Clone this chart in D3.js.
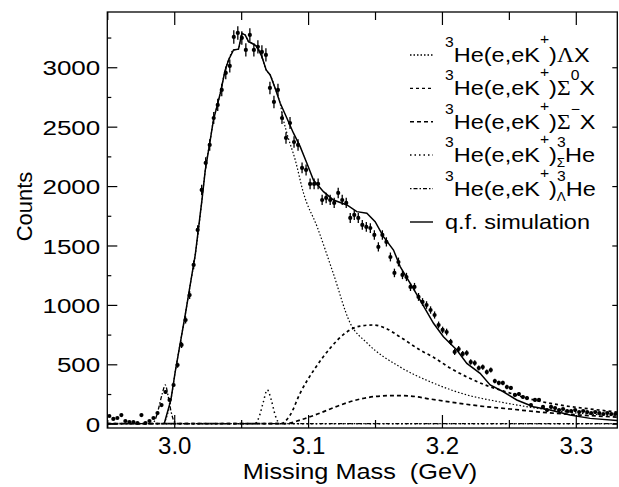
<!DOCTYPE html>
<html>
<head>
<meta charset="utf-8">
<script src="https://cdn.jsdelivr.net/npm/d3@7"></script>
<style>
body{margin:0;background:#fff;}
svg text{font-family:"Liberation Sans",Arial,Helvetica,sans-serif;fill:#000;}
</style>
</head>
<body>
<svg width="619" height="487"></svg>
<script>
// missing mass bins (GeV)
const mass = [
 2.9515,2.9545,2.9575,2.9605,2.9635,2.9665,2.9695,2.9725,2.9755,2.9785,
 2.9815,2.9845,2.9875,2.9905,2.9935,2.9965,2.9995,3.0025,3.0055,3.0085,
 3.0115,3.0145,3.0175,3.0205,3.0235,3.0265,3.0295,3.0325,3.0355,3.0385,
 3.0415,3.0445,3.0475,3.0505,3.0535,3.0565,3.0595,3.0625,3.0655,3.0685,
 3.0715,3.0745,3.0775,3.0805,3.0835,3.0865,3.0895,3.0925,3.0955,3.0985,
 3.1015,3.1045,3.1075,3.1105,3.1135,3.1165,3.1195,3.1225,3.1255,3.1285,
 3.1315,3.1345,3.1375,3.1405,3.1435,3.1465,3.1495,3.1525,3.1555,3.1585,
 3.1615,3.1645,3.1675,3.1705,3.1735,3.1765,3.1795,3.1825,3.1855,3.1885,
 3.1915,3.1945,3.1975,3.2005,3.2035,3.2065,3.2095,3.2125,3.2155,3.2185,
 3.2215,3.2245,3.2275,3.2305,3.2335,3.2365,3.2395,3.2425,3.2455,3.2485,
 3.2515,3.2545,3.2575,3.2605,3.2635,3.2665,3.2695,3.2725,3.2755,3.2785,
 3.2815,3.2845,3.2875,3.2905,3.2935,3.2965,3.2995,3.3025,3.3055,3.3085,
 3.3115,3.3145,3.3175,3.3205,3.3235,3.3265,3.3295
];
const counts = [
 65,40,48,73,23,14,14,6,73,6,23,48,90,
 157,267,200,326,494,663,873,1083,1336,1631,
 1968,2195,2346,2573,2683,2809,2952,3011,3255,3289,
 3247,3146,3272,3146,3172,3129,3104,2826,2708,2809,
 2573,2405,2531,2371,2346,2153,2136,2018,2018,2018,
 1883,1900,1883,1858,1942,1883,1858,1732,1757,1732,
 1673,1656,1647,1589,1488,1589,1530,1403,1269,1361,
 1252,1235,1151,1151,1067,1025,999,957,915,831,
 789,772,688,604,629,587,595,519,511,469,
 477,435,452,359,343,343,309,301,242,250,
 225,216,157,200,200,141,115,141,132,115,
 124,107,107,115,98,107,98,90,98,90,
 82,90,82,82
];
const errors = [
 8,6,7,9,5,4,4,2,9,2,5,7,9,
 13,16,14,18,22,26,30,33,37,40,
 44,47,48,51,52,53,54,55,57,57,
 57,56,57,56,56,56,56,53,52,53,
 51,49,50,49,48,46,46,45,45,45,
 43,44,43,43,44,43,43,42,42,42,
 41,41,41,40,39,40,39,37,36,37,
 35,35,34,34,33,32,32,31,30,29,
 28,28,26,25,25,24,24,23,23,22,
 22,21,21,19,19,19,18,17,16,16,
 15,15,13,14,14,12,11,12,11,11,
 11,10,10,11,10,10,10,9,10,9,
 9,9,9,9
];

// curves [mass, counts]
const simCurve = [
 [2.9925,0],[2.9975,200],[3.0007,435],[3.0045,679],[3.0082,915],[3.0119,1167],[3.0157,1420],
 [3.0207,1882],[3.0232,2134],[3.0269,2387],[3.0293,2557],[3.0319,2669],[3.0344,2781],[3.0381,2977],
 [3.0406,3061],[3.0443,3146],[3.0480,3152],[3.0506,3286],[3.0530,3272],[3.0555,3216],[3.0580,3202],
 [3.0618,3174],[3.0655,3089],[3.0687,2977],[3.0717,2935],[3.0754,2823],[3.0792,2697],[3.0842,2571],
 [3.0891,2445],[3.0941,2332],[3.0991,2192],[3.1040,2051],[3.1115,1953],[3.1190,1883],[3.1290,1841],
 [3.1364,1785],[3.1439,1771],[3.1501,1700],[3.1563,1574],[3.1638,1462],[3.1688,1322],[3.1763,1182],
 [3.1837,1041],[3.1937,845],[3.2011,732],[3.2111,620],[3.2186,508],[3.2285,424],[3.2360,326],
 [3.2459,269],[3.2559,200],[3.2683,143],[3.2808,115],[3.2957,73],[3.3107,45],[3.3308,27]
];
const lambdaCurve = [
 [2.9925,0],[2.9975,200],[3.0007,435],[3.0045,679],[3.0082,915],[3.0119,1167],[3.0157,1420],
 [3.0207,1882],[3.0232,2134],[3.0269,2387],[3.0293,2557],[3.0319,2669],[3.0344,2781],[3.0381,2977],
 [3.0406,3061],[3.0443,3146],[3.0480,3152],[3.0506,3286],[3.0530,3272],[3.0555,3216],[3.0580,3202],
 [3.0618,3174],[3.0655,3089],[3.0687,2977],[3.0717,2935],[3.0754,2823],[3.0792,2690],[3.0816,2556],
 [3.0842,2444],[3.0904,2220],[3.0966,1940],[3.1068,1656],[3.1187,1269],[3.1314,848],[3.1441,679],
 [3.1688,477],[3.1934,343],[3.2188,242],[3.2435,183],[3.2808,115],[3.3308,65]
];
const sigma0Curve = [
 [2.95,0],[3.0792,0],[3.0866,73],[3.0941,258],[3.1053,468],[3.1165,636],[3.1277,762],[3.1389,822],
 [3.1486,831],[3.1576,805],[3.1688,730],[3.1837,620],[3.1934,561],[3.2061,469],[3.2188,393],
 [3.2323,326],[3.2435,284],[3.2659,208],[3.2883,157],[3.3107,124],[3.3308,98]
];
const sigmaMCurve = [
 [2.95,0],[3.0829,0],[3.0941,31],[3.1090,90],[3.1240,157],[3.1389,208],[3.1538,233],[3.1650,237],
 [3.1763,233],[3.1912,208],[3.2061,183],[3.2285,149],[3.2509,124],[3.2733,98],[3.3032,73],[3.3308,56]
];
const hyperSigmaCurve = [
 [2.95,0],[3.0600,0],[3.0635,60],[3.0665,180],[3.0695,285],[3.0725,200],[3.0755,70],[3.0790,0],[3.3308,0]
];
const hyperLambdaCurve = [
 [2.95,0],[2.9830,0],[2.9860,40],[2.9880,115],[2.9910,250],[2.9933,326],[2.9955,230],[2.9975,110],
 [3.0000,20],[3.0030,0],[3.3308,0]
];

const xMajorTicks = [3.0, 3.1, 3.2, 3.3];
const xMinorTicks = [2.95, 3.05, 3.15, 3.25];
const yMajorTicks = [0, 500, 1000, 1500, 2000, 2500, 3000];
const yMinorTicks = [250, 750, 1250, 1750, 2250, 2750, 3250];

const legendLabels = [
 [['3','sup'],['He(e,eK'],['+','plus'],[')'],['\u039B','greek'],['X']],
 [['3','sup'],['He(e,eK'],['+','plus'],[')'],['\u03A3','greek'],['0','sup'],['X']],
 [['3','sup'],['He(e,eK'],['+','plus'],[')'],['\u03A3','greek'],['\u2212','sup'],['X']],
 [['3','sup'],['He(e,eK'],['+','plus'],[')'],['3','sup'],['\u03A3','sub'],['He']],
 [['3','sup'],['He(e,eK'],['+','plus'],[')'],['3','sup'],['\u039B','sub'],['He']],
 [['q.f. simulation']]
];

function whenLoaded(){
    const svg = d3.select('svg');
    const margin = {top:12, left:107.3};
    const innerWidth = 510;
    const innerHeight = 416;

    const xScale = d3.scaleLinear().domain([2.95, 3.331]).range([0, innerWidth]);
    const yScale = d3.scaleLinear().domain([-36, 3465]).range([innerHeight, 0]);

    const g = svg.append('g')
        .attr('transform', `translate(${margin.left},${margin.top})`);

    g.append('clipPath').attr('id','plotclip')
        .append('rect').attr('width', innerWidth).attr('height', innerHeight);

    // axes (ticks pointing inward)
    const xAxisG = g.append('g').attr('transform', `translate(0,${innerHeight})`)
        .call(d3.axisBottom(xScale).tickValues(xMajorTicks).tickSize(-13).tickPadding(9)
            .tickFormat(d3.format('.1f')));
    xAxisG.selectAll('text').style('font-size','24px');
    g.append('g').attr('transform', `translate(0,${innerHeight})`)
        .call(d3.axisBottom(xScale).tickValues(xMinorTicks).tickSize(-8).tickFormat(''));
    g.append('g').call(d3.axisTop(xScale).tickValues(xMajorTicks).tickSize(-13).tickFormat(''));
    g.append('g').call(d3.axisTop(xScale).tickValues(xMinorTicks).tickSize(-8).tickFormat(''));

    const yAxisG = g.append('g')
        .call(d3.axisLeft(yScale).tickValues(yMajorTicks).tickSize(-10).tickPadding(0)
            .tickFormat(d3.format('d')));
    yAxisG.selectAll('text')
        .style('font-size','21px')
        .attr('x', -7/1.24)
        .attr('dy','0.36em')
        .attr('transform','scale(1.24,1)');
    g.append('g').call(d3.axisLeft(yScale).tickValues(yMinorTicks).tickSize(-4).tickFormat(''));
    g.append('g').attr('transform', `translate(${innerWidth},0)`)
        .call(d3.axisRight(yScale).tickValues(yMajorTicks).tickSize(-5).tickFormat(''));

    g.selectAll('.domain').remove();
    g.selectAll('.tick line').attr('stroke','#000').attr('stroke-width',1.2);

    g.append('rect')
        .attr('width', innerWidth).attr('height', innerHeight)
        .attr('fill','none').attr('stroke','#000').attr('stroke-width',1.3);

    // axis labels
    svg.append('text')
        .attr('transform','translate(360,479) scale(1.15,1)')
        .style('font-size','22px')
        .style('white-space','pre')
        .attr('text-anchor','middle')
        .text('Missing Mass  (GeV)');
    svg.append('text')
        .attr('transform','translate(31.5,206.5) rotate(-90)')
        .style('font-size','22px')
        .attr('text-anchor','middle')
        .text('Counts');

    // curves
    const plot = g.append('g').attr('clip-path','url(#plotclip)');
    const line = d3.line().x(d => xScale(d[0])).y(d => yScale(d[1]));
    const smooth = d3.line().x(d => xScale(d[0])).y(d => yScale(d[1])).curve(d3.curveMonotoneX);

    const curveStyles = [
        {data: hyperLambdaCurve, gen: smooth, dash: '1.5,2,4,2', w: 1.3},
        {data: hyperSigmaCurve, gen: smooth, dash: '1.5,3', w: 1.5},
        {data: sigmaMCurve, gen: smooth, dash: '4,3', w: 1.7},
        {data: sigma0Curve, gen: smooth, dash: '3,3', w: 1.7},
        {data: lambdaCurve, gen: smooth, dash: '1.5,2', w: 1.2},
        {data: simCurve, gen: line, dash: null, w: 1.5}
    ];
    curveStyles.forEach(c => {
        plot.append('path')
            .attr('d', c.gen(c.data))
            .attr('fill','none')
            .attr('stroke','#000')
            .attr('stroke-width', c.w)
            .attr('stroke-dasharray', c.dash);
    });

    // data points with error bars
    const points = mass.map((m, i) => ({m, c: counts[i], e: errors[i]}));
    plot.selectAll('line.err').data(points).enter()
        .append('line').attr('class','err')
        .attr('x1', d => xScale(d.m)).attr('x2', d => xScale(d.m))
        .attr('y1', d => yScale(d.c - d.e)).attr('y2', d => yScale(d.c + d.e))
        .attr('stroke','#000').attr('stroke-width',1.3);
    plot.selectAll('circle').data(points).enter()
        .append('circle')
        .attr('cx', d => xScale(d.m))
        .attr('cy', d => yScale(d.c))
        .attr('r', 2.1);

    // legend
    const kinds = {
        main: {size: 21, rise: 0},
        greek: {size: 21, rise: 0, family: '"Liberation Serif", serif'},
        sup: {size: 14, rise: 15},
        plus: {size: 14, rise: 18},
        sub: {size: 12, rise: -5, dx: -8}
    };
    const legendBaselines = [62, 95.4, 128.8, 162, 195.6, 229];
    const legendDash = ['1.5,2', '3,3', '4,3', '1.5,3', '1.5,2,4,2', null];
    legendLabels.forEach((parts, r) => {
        const yb = legendBaselines[r];
        svg.append('line')
            .attr('x1', 410).attr('x2', 433)
            .attr('y1', yb - 7).attr('y2', yb - 7)
            .attr('stroke','#000').attr('stroke-width', 1.4)
            .attr('stroke-dasharray', legendDash[r]);
        const t = svg.append('text')
            .attr('transform', `translate(445,${yb}) scale(1.12,1)`);
        let rise = 0;
        parts.forEach(([str, kind]) => {
            const k = kinds[kind || 'main'];
            const ts = t.append('tspan')
                .attr('dy', rise - k.rise)
                .style('font-size', k.size + 'px')
                .text(str);
            if (k.dx) ts.attr('dx', k.dx);
            if (k.family) ts.style('font-family', k.family);
            rise = k.rise;
        });
    });
}

window.onload = whenLoaded;
</script>
</body>
</html>
